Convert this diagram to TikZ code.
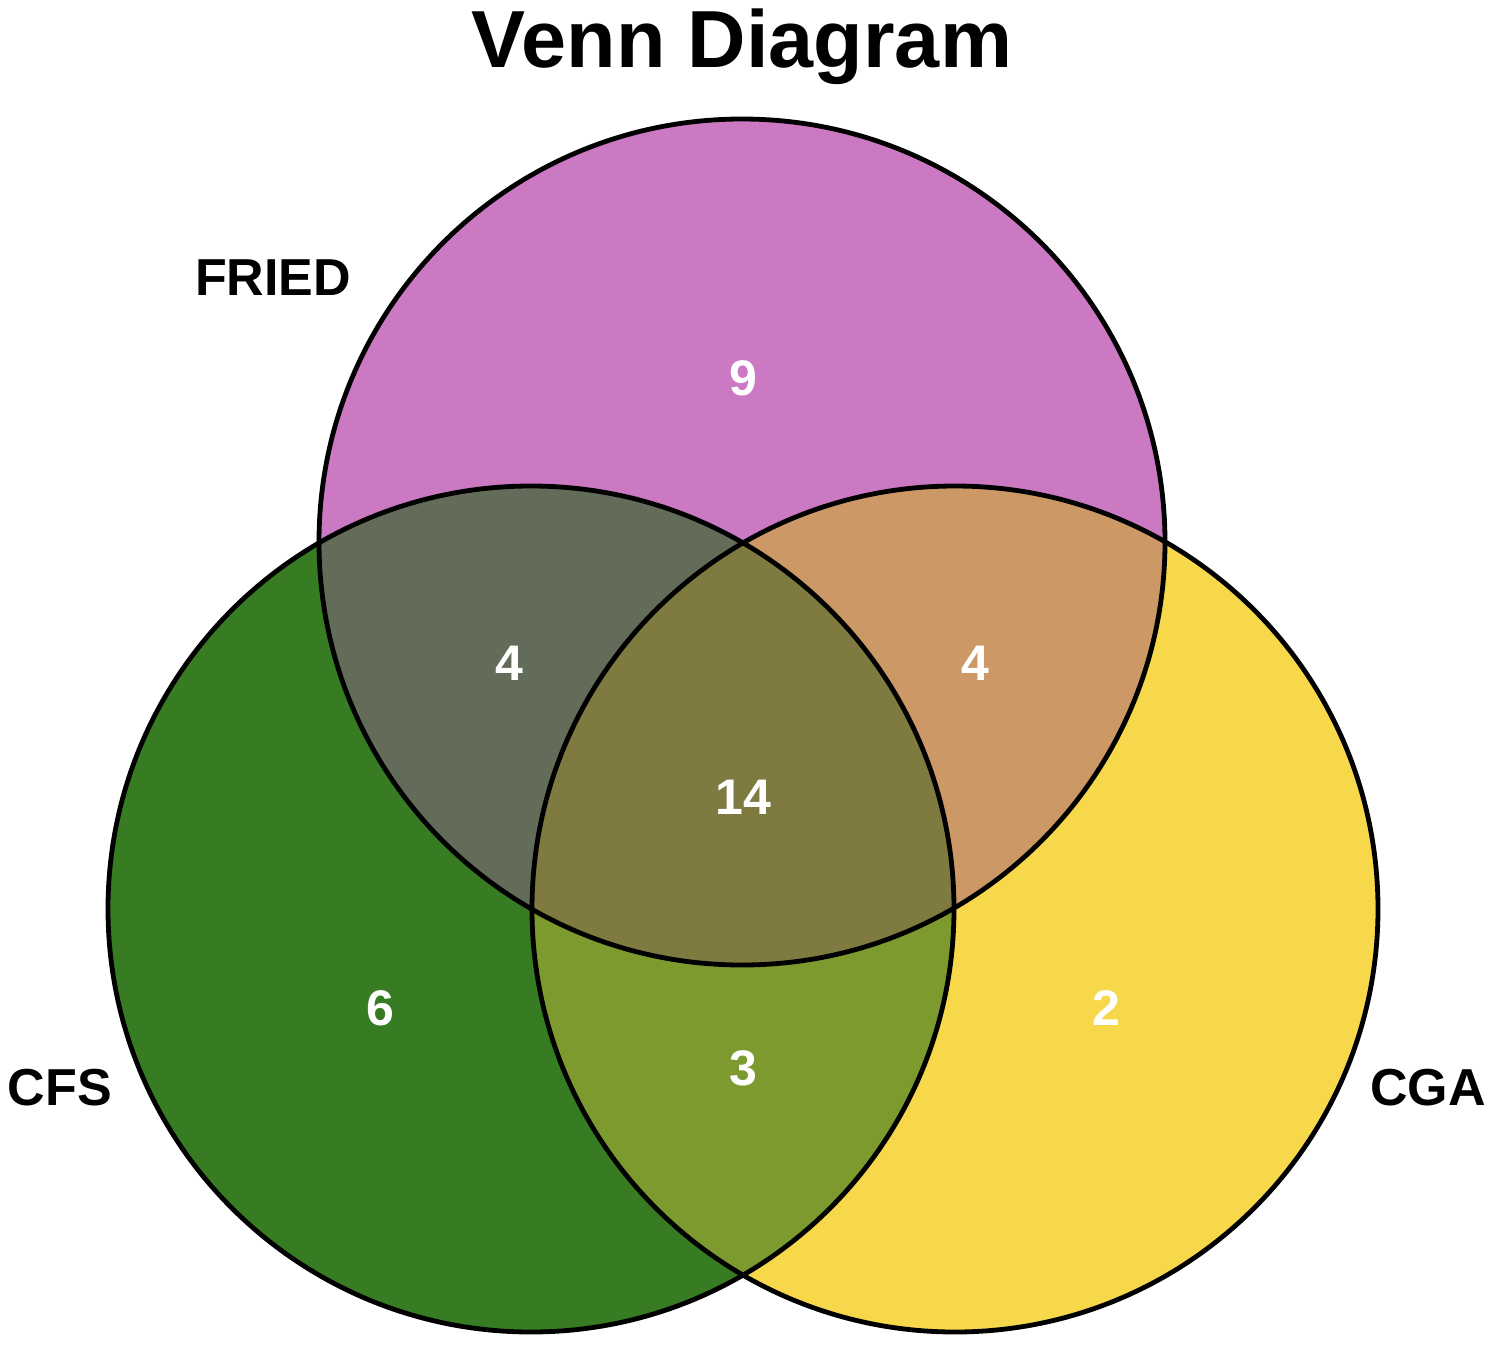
\documentclass[tikz,border=0pt]{standalone}
\usepackage{fontspec}
\setmainfont{Liberation Sans}
\definecolor{cA}{RGB}{204,121,196}
\definecolor{cB}{RGB}{55,124,34}
\definecolor{cC}{RGB}{247,216,74}
\definecolor{cAB}{RGB}{99,108,88}
\definecolor{cAC}{RGB}{204,153,102}
\definecolor{cBC}{RGB}{124,154,46}
\definecolor{cABC}{RGB}{126,122,64}
\tikzset{
  ring/.style={draw=black, line width=2.4pt},
  cnt/.style={text=white, font=\bfseries\fontsize{25}{30}\selectfont, inner sep=0pt},
  setlabel/.style={text=black, font=\bfseries\fontsize{26}{31}\selectfont, inner sep=0pt},
}
\begin{document}
\begin{tikzpicture}[x=0.5pt, y=-0.5pt]
\useasboundingbox (0,0) rectangle (1500,1350);
\def\ra{423}
\coordinate (A) at (742,542);
\coordinate (B) at (531,909);
\coordinate (C) at (955,909);
% base fills
\fill[cA] (A) circle (\ra);
\fill[cB] (B) circle (\ra);
\fill[cC] (C) circle (\ra);
\begin{scope}
  \clip (A) circle (\ra);
  \fill[cAB] (B) circle (\ra);
  \fill[cAC] (C) circle (\ra);
\end{scope}
\begin{scope}
  \clip (B) circle (\ra);
  \fill[cBC] (C) circle (\ra);
\end{scope}
\begin{scope}
  \clip (A) circle (\ra);
  \clip (B) circle (\ra);
  \fill[cABC] (C) circle (\ra);
\end{scope}
\draw[ring] (A) circle (\ra);
\draw[ring] (B) circle (\ra);
\draw[ring] (C) circle (\ra);
% title and labels
\node[font=\bfseries\fontsize{40.5}{48}\selectfont, inner sep=0pt, anchor=base] (title) at (742,67) {Venn Diagram};
\node[setlabel] (lA) at (273,278) {FRIED};
\node[setlabel] (lB) at (60,1088) {CFS};
\node[setlabel] (lC) at (1428,1088) {CGA};
% counts
\node[cnt] (nA) at (743,378) {9};
\node[cnt] (nAB) at (509,663) {4};
\node[cnt] (nAC) at (975,663) {4};
\node[cnt] (nABC) at (743,797) {14};
\node[cnt] (nB) at (380,1008) {6};
\node[cnt] (nBC) at (743,1068) {3};
\node[cnt] (nC) at (1106,1008) {2};
\end{tikzpicture}
\end{document}
